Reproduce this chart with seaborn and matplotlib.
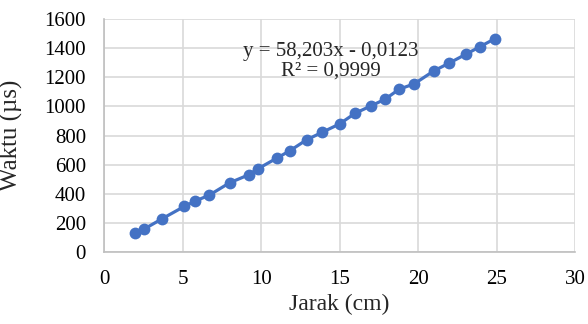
import numpy as np
import pandas as pd
import matplotlib
matplotlib.use("Agg")
import matplotlib.pyplot as plt
import seaborn as sns

# jarak (cm) vs waktu (us)
jarak = [2.0, 2.55, 3.7, 5.1, 5.8, 6.7, 8.0, 9.2, 9.8, 11.0, 11.85, 12.9, 13.9, 15.0,
         16.0, 17.0, 17.9, 18.8, 19.75, 21.0, 22.0, 23.05, 23.95, 24.9]
waktu = [130, 158, 229, 313, 350, 391, 476, 530, 572, 645, 697, 771, 823, 880,
         954, 1004, 1050, 1119, 1155, 1244, 1299, 1359, 1411, 1466]
equation = "y = 58,203x - 0,0123"
r_squared = "R² = 0,9999"

df = pd.DataFrame({"jarak": jarak, "waktu": waktu})

sns.set_style("white")
plt.rcParams["font.family"] = ["Liberation Serif", "DejaVu Serif"]

fig = plt.figure(figsize=(5.88, 3.24), dpi=100)
ax = fig.add_axes([0.177, 0.222, 0.801, 0.719])

blue = "#4472C4"
sns.lineplot(data=df, x="jarak", y="waktu", ax=ax, color=blue, linewidth=2.3,
             marker="o", markersize=8.5, markeredgewidth=0, zorder=3)

ax.set_xlim(0, 30)
ax.set_ylim(0, 1600)
ax.set_xticks(np.arange(0, 31, 5))
ax.set_yticks(np.arange(0, 1601, 200))
ax.grid(True, color="#D9D9D9", linewidth=1.2)
ax.set_axisbelow(True)
for s in ["top", "right"]:
    ax.spines[s].set_visible(False)
for s in ["left", "bottom"]:
    ax.spines[s].set_color("#BFBFBF")
    ax.spines[s].set_linewidth(1.2)
ax.tick_params(axis="both", length=0, labelsize=15, colors="black")
ax.tick_params(axis="y", pad=13)
ax.tick_params(axis="x", pad=13)

ax.set_xlabel("Jarak (cm)", fontsize=17)
ax.set_ylabel("Waktu (µs)", fontsize=18)
ax.xaxis.set_label_coords(0.5, -0.226)
ax.xaxis.label.set_va("center")
ax.yaxis.set_label_coords(-0.197, 0.5)
ax.yaxis.label.set_va("center")

ax.text(14.45, 1311, equation + "\n" + r_squared, fontsize=15, ha="center", va="center",
        linespacing=1.0)

fig.savefig("out.png", dpi=100)
